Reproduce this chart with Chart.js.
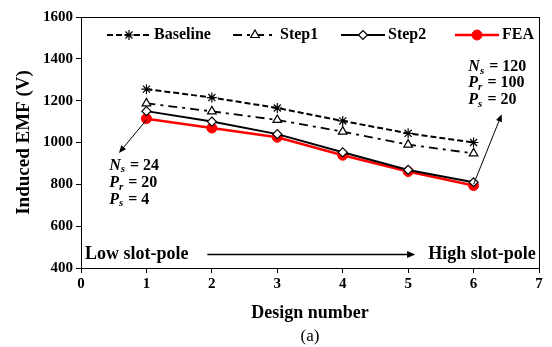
<!DOCTYPE html>
<html>
<head>
<meta charset="utf-8">
<script src="https://cdn.jsdelivr.net/npm/chart.js@4"></script>
<style>
  body { margin: 0; background: #fff; }
  #wrap { width: 552px; height: 347px; }
</style>
</head>
<body>
<div id="wrap"><canvas id="emfChart" width="552" height="347"></canvas></div>
<script>
// values
var designs = [1, 2, 3, 4, 5, 6];
var baseline = [1255, 1215, 1165, 1103, 1044, 1000];
var step1 = [1187, 1149, 1108, 1052, 990, 948];
var step2 = [1150, 1100, 1040, 953, 869, 810];
var fea = [1114, 1069, 1025, 939, 861, 794];
var xTicks = [0, 1, 2, 3, 4, 5, 6, 7];
var yTicks = [400, 600, 800, 1000, 1200, 1400, 1600];

var serif = '"Liberation Serif", "Times New Roman", serif';

function toPoints(values) {
    return values.map(function (v, i) { return { x: designs[i], y: v }; });
}

function arrow(ctx, x1, y1, x2, y2, head) {
    var a = Math.atan2(y2 - y1, x2 - x1);
    ctx.beginPath();
    ctx.moveTo(x1, y1);
    ctx.lineTo(x2 - Math.cos(a) * head * 0.8, y2 - Math.sin(a) * head * 0.8);
    ctx.stroke();
    ctx.beginPath();
    ctx.moveTo(x2, y2);
    ctx.lineTo(x2 - head * Math.cos(a - 0.4), y2 - head * Math.sin(a - 0.4));
    ctx.lineTo(x2 - head * Math.cos(a + 0.4), y2 - head * Math.sin(a + 0.4));
    ctx.closePath();
    ctx.fill();
}

// "N_s = 24" style text
function symbol(ctx, x, y, letter, sub, rest) {
    ctx.textAlign = 'left';
    ctx.textBaseline = 'middle';
    ctx.font = 'italic bold 16px ' + serif;
    ctx.fillText(letter, x, y);
    x += ctx.measureText(letter).width;
    ctx.font = 'italic bold 11px ' + serif;
    ctx.fillText(sub, x, y + 4);
    x += ctx.measureText(sub).width;
    ctx.font = 'bold 16px ' + serif;
    ctx.fillText(rest, x + 1, y);
}

const overlay = {
    id: 'overlay',
    afterDraw(chart) {
        const ctx = chart.ctx;
        const area = chart.chartArea;
        const sx = chart.scales.x, sy = chart.scales.y;
        ctx.save();
        ctx.strokeStyle = '#000';
        ctx.fillStyle = '#000';
        ctx.lineWidth = 1;
        ctx.strokeRect(area.left + 0.5, area.top + 0.5, area.right - area.left, area.bottom - area.top);

        // legend built from the dataset styles
        var starts = [107, 233, 341, 455];
        var ly = 35;
        chart.data.datasets.forEach(function (ds, i) {
            var x0 = starts[i];
            ctx.save();
            ctx.strokeStyle = ds.borderColor;
            ctx.lineWidth = ds.borderWidth;
            ctx.setLineDash(ds.borderDash || []);
            ctx.beginPath();
            ctx.moveTo(x0, ly);
            ctx.lineTo(x0 + 44, ly);
            ctx.stroke();
            ctx.restore();
            ctx.save();
            ctx.fillStyle = ds.pointBackgroundColor;
            ctx.strokeStyle = ds.pointBorderColor;
            ctx.lineWidth = ds.pointBorderWidth;
            ctx.setLineDash([]);
            Chart.helpers.drawPoint(ctx, {
                pointStyle: ds.pointStyle,
                radius: ds.pointRadius,
                borderWidth: ds.pointBorderWidth
            }, x0 + 22, ly);
            ctx.restore();
            ctx.fillStyle = '#000';
            ctx.font = 'bold 16px ' + serif;
            ctx.textAlign = 'left';
            ctx.textBaseline = 'middle';
            ctx.fillText(ds.label, x0 + 47, ly);
        });

        // design annotations
        ctx.lineWidth = 1;
        arrow(ctx, sx.getPixelForValue(1), sy.getPixelForValue(1108), sx.getPixelForValue(0.58), sy.getPixelForValue(950), 8);
        arrow(ctx, sx.getPixelForValue(6), sy.getPixelForValue(800), sx.getPixelForValue(6.43), sy.getPixelForValue(1135), 8);

        var lx = sx.getPixelForValue(0.43);
        symbol(ctx, lx, sy.getPixelForValue(890), 'N', 's', ' = 24');
        symbol(ctx, lx, sy.getPixelForValue(808), 'P', 'r', ' = 20');
        symbol(ctx, lx, sy.getPixelForValue(727), 'P', 's', ' = 4');
        var rx = sx.getPixelForValue(5.92);
        symbol(ctx, rx, sy.getPixelForValue(1360), 'N', 's', ' = 120');
        symbol(ctx, rx, sy.getPixelForValue(1283), 'P', 'r', ' = 100');
        symbol(ctx, rx, sy.getPixelForValue(1202), 'P', 's', ' = 20');

        var by = sy.getPixelForValue(465);
        ctx.font = 'bold 18px ' + serif;
        ctx.textBaseline = 'middle';
        ctx.textAlign = 'left';
        ctx.fillText('Low slot-pole', sx.getPixelForValue(0.06), by);
        ctx.textAlign = 'right';
        ctx.fillText('High slot-pole', sx.getPixelForValue(6.95), by);
        ctx.lineWidth = 1.5;
        arrow(ctx, sx.getPixelForValue(1.93), by, sx.getPixelForValue(5.11), by, 9);

        ctx.font = '17px ' + serif;
        ctx.textAlign = 'center';
        ctx.fillText('(a)', (area.left + area.right) / 2, 337);
        ctx.restore();
    }
};

const ctx = document.getElementById('emfChart').getContext('2d');
new Chart(ctx, {
    type: 'line',
    data: {
        datasets: [{
            label: 'Baseline',
            data: toPoints(baseline),
            borderColor: '#000',
            borderWidth: 2,
            borderDash: [6, 3],
            pointStyle: 'star',
            pointRadius: 5,
            pointBorderWidth: 1.2,
            pointBorderColor: '#000',
            pointBackgroundColor: '#000'
        }, {
            label: 'Step1',
            data: toPoints(step1),
            borderColor: '#000',
            borderWidth: 1.8,
            borderDash: [9, 5, 3, 5],
            pointStyle: 'triangle',
            pointRadius: 5,
            pointBorderWidth: 1.2,
            pointBorderColor: '#000',
            pointBackgroundColor: '#fff'
        }, {
            label: 'Step2',
            data: toPoints(step2),
            borderColor: '#000',
            borderWidth: 2,
            pointStyle: 'rectRot',
            pointRadius: 4.5,
            pointBorderWidth: 1.2,
            pointBorderColor: '#000',
            pointBackgroundColor: '#fff'
        }, {
            label: 'FEA',
            data: toPoints(fea),
            borderColor: '#ff0000',
            borderWidth: 2.5,
            pointStyle: 'circle',
            pointRadius: 5,
            pointBorderWidth: 1,
            pointBorderColor: '#ff0000',
            pointBackgroundColor: '#ff0000'
        }]
    },
    options: {
        responsive: false,
        animation: false,
        layout: { padding: { left: 13, right: 13, top: 17, bottom: 21 } },
        plugins: {
            legend: { display: false },
            tooltip: { enabled: false }
        },
        scales: {
            x: {
                type: 'linear',
                min: 0,
                max: 7,
                afterBuildTicks: function (scale) { scale.ticks = xTicks.map(function (v) { return { value: v }; }); },
                afterFit: function (scale) { scale.height = 58; },
                ticks: {
                    color: '#000',
                    font: { family: serif, size: 15, weight: 'bold' },
                    padding: 2,
                    callback: function (v) { return String(v); }
                },
                grid: { drawOnChartArea: false, color: '#000', tickLength: 5 },
                border: { color: '#000', width: 1 },
                title: {
                    display: true,
                    text: 'Design number',
                    color: '#000',
                    font: { family: serif, size: 18, weight: 'bold' },
                    padding: { top: 0, bottom: 2 }
                }
            },
            y: {
                min: 400,
                max: 1600,
                afterBuildTicks: function (scale) { scale.ticks = yTicks.map(function (v) { return { value: v }; }); },
                afterFit: function (scale) { scale.width = 68; },
                ticks: {
                    color: '#000',
                    font: { family: serif, size: 15, weight: 'bold' },
                    padding: 3,
                    callback: function (v) { return String(v); }
                },
                grid: { drawOnChartArea: false, color: '#000', tickLength: 5 },
                border: { color: '#000', width: 1 },
                title: {
                    display: true,
                    text: 'Induced EMF (V)',
                    color: '#000',
                    font: { family: serif, size: 19, weight: 'bold' },
                    padding: { top: 0, bottom: 0 }
                }
            }
        }
    },
    plugins: [overlay]
});
</script>
</body>
</html>
